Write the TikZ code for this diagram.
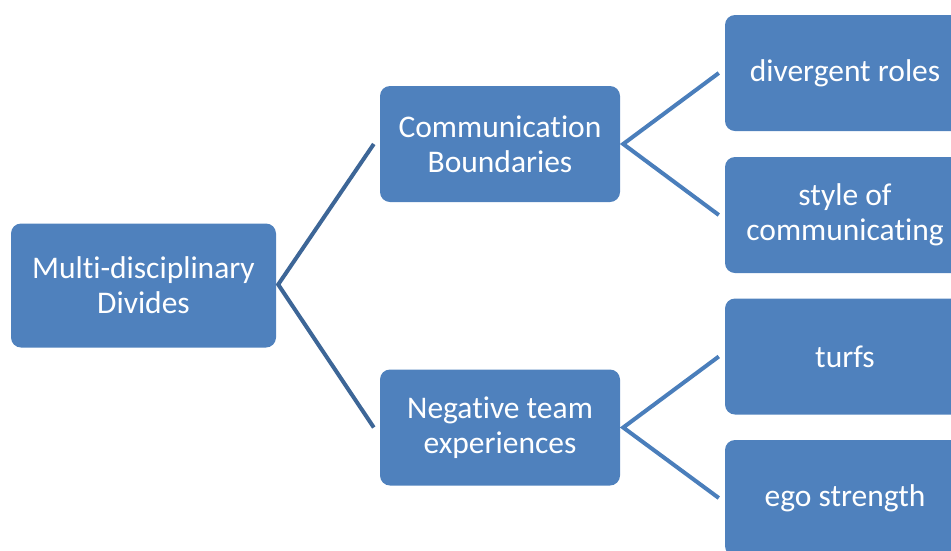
\documentclass[tikz,border=0pt]{standalone}
\usepackage{fontspec}
\setmainfont[Ligatures={NoCommon}]{Carlito}
\usetikzlibrary{calc}
\definecolor{boxblue}{HTML}{4F81BD}
\definecolor{lineA}{HTML}{3D6697}
\definecolor{lineB}{HTML}{4A7EBB}
\tikzset{
  tbox/.style={fill=boxblue, rounded corners=10pt, text=white, align=center,
    font=\fontsize{31.5}{35}\selectfont, inner sep=0pt},
  rootbox/.style={tbox, minimum width=265pt, minimum height=124pt},
  midbox/.style={tbox, minimum width=240pt, minimum height=116pt},
  conA/.style={draw=lineA, line width=4pt, line join=miter},
  conB/.style={draw=lineB, line width=4pt, line join=miter}
}
\begin{document}
\begin{tikzpicture}[x=1pt,y=-1pt]
\useasboundingbox (0,0) rectangle (951,550);
\clip (0,0) rectangle (951,550);
\node[rootbox] (root) at (143.5,285.5) {Multi-disciplinary\\Divides};
\node[midbox] (comm) at (500,144) {Communication\\Boundaries};
\node[midbox] (neg) at (500,427.5) {Negative team\\experiences};
\node[midbox] (div) at (845,73) {divergent roles};
\node[midbox] (sty) at (845,215) {style of\\communicating};
\node[midbox] (tur) at (845,356.5) {turfs};
\node[midbox] (ego) at (845,498) {ego strength};
\coordinate (j0) at ($(root.east)+(2,-1)$);
\coordinate (j1) at ($(comm.east)+(3,0)$);
\coordinate (j2) at ($(neg.east)+(3,0)$);
\draw[conA] ($(comm.west)+(-6,0)$) -- (j0) -- ($(neg.west)+(-6,0)$);
\draw[conB] ($(div.west)+(-6,0)$) -- (j1) -- ($(sty.west)+(-6,0)$);
\draw[conB] ($(tur.west)+(-6,0)$) -- (j2) -- ($(ego.west)+(-6,0)$);
\end{tikzpicture}
\end{document}
